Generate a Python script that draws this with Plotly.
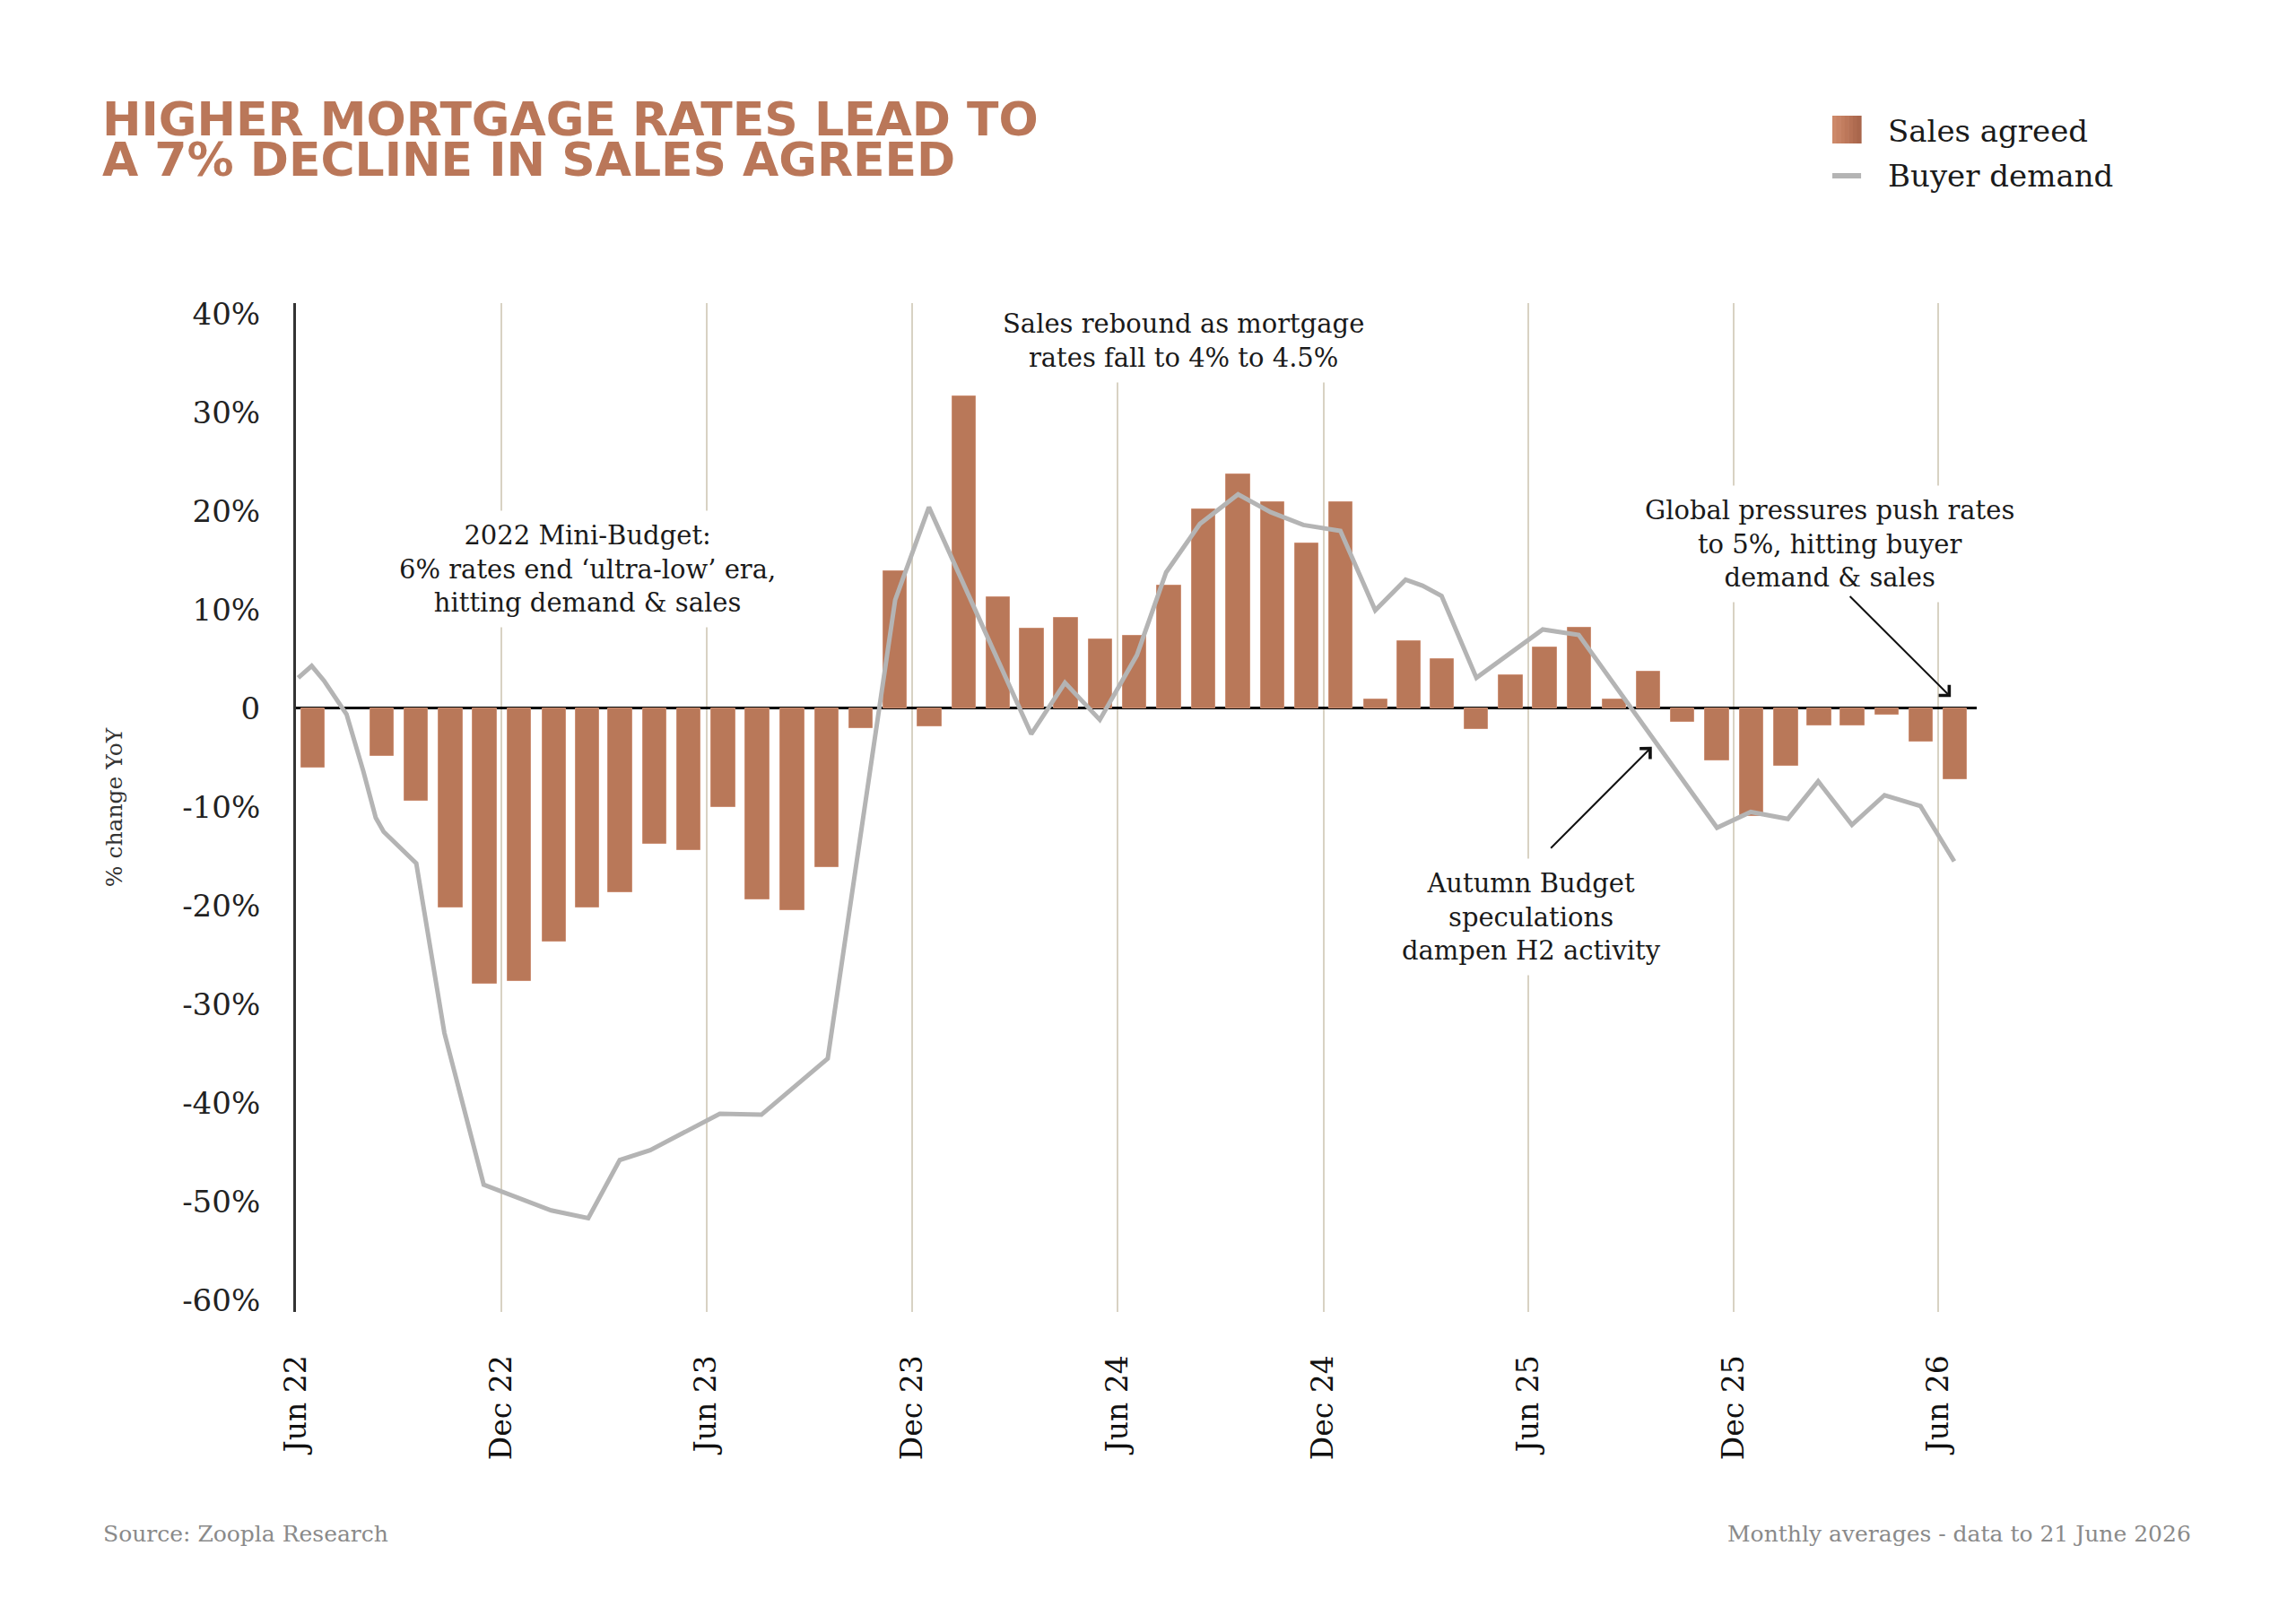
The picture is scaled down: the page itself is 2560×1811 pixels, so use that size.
import plotly.graph_objects as go

# ---------------- data ----------------
months = [
    "2022-06", "2022-07", "2022-08", "2022-09", "2022-10", "2022-11", "2022-12",
    "2023-01", "2023-02", "2023-03", "2023-04", "2023-05", "2023-06", "2023-07",
    "2023-08", "2023-09", "2023-10", "2023-11", "2023-12",
    "2024-01", "2024-02", "2024-03", "2024-04", "2024-05", "2024-06", "2024-07",
    "2024-08", "2024-09", "2024-10", "2024-11", "2024-12",
    "2025-01", "2025-02", "2025-03", "2025-04", "2025-05", "2025-06", "2025-07",
    "2025-08", "2025-09", "2025-10", "2025-11", "2025-12",
    "2026-01", "2026-02", "2026-03", "2026-04", "2026-05", "2026-06",
]
sales_agreed = [
    -6.0, None, -4.8, -9.4, -20.2, -27.9, -27.6,
    -23.6, -20.2, -18.6, -13.7, -14.4, -10.0, -19.4,
    -20.5, -16.1, -2.0, 13.9, -1.8,
    31.6, 11.3, 8.1, 9.2, 7.0, 7.4, 12.5,
    20.2, 23.7, 20.9, 16.7, 20.9,
    0.9, 6.85, 5.0, -2.1, 3.4, 6.2, 8.2,
    0.9, 3.7, -1.4, -5.25, -10.9,
    -5.8, -1.7, -1.7, -0.6, -3.4, -7.2,
]

demand_dates = [
    "2022-06-03", "2022-06-15", "2022-06-26", "2022-07-16", "2022-07-31",
    "2022-08-11", "2022-08-18", "2022-09-16", "2022-10-11", "2022-11-15",
    "2023-01-14", "2023-02-16", "2023-03-16", "2023-04-12", "2023-06-13",
    "2023-07-20", "2023-09-17", "2023-11-16", "2023-12-16", "2024-03-16",
    "2024-04-15", "2024-05-16", "2024-06-18", "2024-07-14", "2024-08-13",
    "2024-09-16", "2024-10-15", "2024-11-13", "2024-12-16", "2025-01-16",
    "2025-02-12", "2025-02-27", "2025-03-16", "2025-04-16", "2025-06-14",
    "2025-07-16", "2025-11-16", "2025-12-16", "2026-01-18", "2026-02-14",
    "2026-03-16", "2026-04-14", "2026-05-16", "2026-06-15",
]
buyer_demand = [
    3.1, 4.3, 2.8, -0.6, -6.4,
    -11.1, -12.5, -15.7, -32.9, -48.3,
    -50.9, -51.7, -45.8, -44.8, -41.1,
    -41.2, -35.5, 11.0, 20.4, -2.6,
    2.6, -1.15, 5.4, 13.8, 18.7,
    21.7, 19.9, 18.6, 18.0, 9.95,
    13.05, 12.45, 11.4, 3.1, 8.0,
    7.45, -12.1, -10.5, -11.2, -7.4,
    -11.8, -8.8, -9.9, -15.5,
]

x_tick_dates = ["2022-06-01", "2022-12-01", "2023-06-01", "2023-12-01", "2024-06-01",
                "2024-12-01", "2025-06-01", "2025-12-01", "2026-06-01"]
x_tick_labels = ["Jun 22", "Dec 22", "Jun 23", "Dec 23", "Jun 24",
                 "Dec 24", "Jun 25", "Dec 25", "Jun 26"]
y_tick_values = [40, 30, 20, 10, 0, -10, -20, -30, -40, -50, -60]
y_tick_labels = ["40%", "30%", "20%", "10%", "0", "-10%", "-20%", "-30%",
                 "-40%", "-50%", "-60%"]

# ---------------- style ----------------
COPPER = "#B97859"
GREY = "#B4B4B4"
SERIF = "DejaVu Serif"
SANS = "DejaVu Sans"
DAY_MS = 86400000

fig = go.Figure()

fig.add_trace(go.Bar(
    x=months, y=sales_agreed, name="Sales agreed",
    xperiod="M1", xperiodalignment="middle",
    width=21 * DAY_MS,
    marker=dict(color=COPPER, line=dict(color="#CC9075", width=1)),
    showlegend=False,
))

fig.add_trace(go.Scatter(
    x=demand_dates, y=buyer_demand, name="Buyer demand",
    mode="lines", line=dict(color=GREY, width=5),
    showlegend=False,
))

annotations = []

# title (two lines, tight leading: fixed box height so the lines do not overlap)
annotations.append(dict(
    text="HIGHER MORTGAGE RATES LEAD TO", xref="paper", yref="paper",
    x=-0.1158, y=1.1822, xanchor="left", yanchor="middle", showarrow=False,
    height=44, valign="middle", borderpad=0,
    font=dict(family=SANS, size=52, color="#BA7759", weight=700),
))
annotations.append(dict(
    text="A 7% DECLINE IN SALES AGREED", xref="paper", yref="paper",
    x=-0.1158, y=1.1422, xanchor="left", yanchor="middle", showarrow=False,
    height=44, valign="middle", borderpad=0,
    font=dict(family=SANS, size=52, color="#BA7759", weight=700),
))

# legend texts
annotations.append(dict(
    text="Sales agreed", xref="paper", yref="paper", x=0.9461, y=1.1707,
    xanchor="left", yanchor="middle", showarrow=False,
    font=dict(family=SERIF, size=34, color="#1a1a1a"),
))
annotations.append(dict(
    text="Buyer demand", xref="paper", yref="paper", x=0.9461, y=1.1262,
    xanchor="left", yanchor="middle", showarrow=False,
    font=dict(family=SERIF, size=34, color="#1a1a1a"),
))

# chart notes
note_font = dict(family=SERIF, size=29, color="#1a1a1a")
notes = [
    ("2022 Mini-Budget:<br>6% rates end ‘ultra-low’ era,<br>hitting demand &amp; sales", "2023-02-15", 14.1),
    ("Sales rebound as mortgage<br>rates fall to 4% to 4.5%", "2024-07-29", 37.3),
    ("Global pressures push rates<br>to 5%, hitting buyer<br>demand &amp; sales", "2026-02-24", 16.65),
    ("Autumn Budget<br>speculations<br>dampen H2 activity", "2025-06-04", -21.1),
]
for txt, xx, yy in notes:
    annotations.append(dict(
        text=txt, x=xx, y=yy, xref="x", yref="y", showarrow=False,
        xanchor="center", yanchor="middle", align="center",
        bgcolor="white", borderpad=10, font=note_font,
    ))

# arrows
arrows = [
    ("2025-09-19", -3.9, "2025-06-20", -14.3),
    ("2026-06-12", 1.15, "2026-03-13", 11.5),
]
for hx, hy, tx, ty in arrows:
    annotations.append(dict(
        text="", x=hx, y=hy, ax=tx, ay=ty, xref="x", yref="y",
        axref="x", ayref="y", showarrow=True, arrowhead=4,
        arrowsize=1.6, arrowwidth=2, arrowcolor="#111111", standoff=0,
    ))

# footer
annotations.append(dict(
    text="Source: Zoopla Research", xref="paper", yref="paper",
    x=-0.1158, y=-0.2204, xanchor="left", yanchor="middle", showarrow=False,
    font=dict(family=SERIF, size=25, color="#8a8a8a"),
))
annotations.append(dict(
    text="Monthly averages - data to 21 June 2026", xref="paper", yref="paper",
    x=1.1286, y=-0.2204, xanchor="right", yanchor="middle", showarrow=False,
    font=dict(family=SERIF, size=25, color="#8a8a8a"),
))

# legend swatches (gradient square + grey line)
shapes = []
grad = ["#CD8969", "#C88364", "#C27D5F", "#BC775A", "#B67155", "#AF6B50", "#A9664C"]
sx0, sx1 = 0.9141, 0.9312
step = (sx1 - sx0) / len(grad)
for i, c in enumerate(grad):
    shapes.append(dict(
        type="rect", xref="paper", yref="paper",
        x0=sx0 + i * step, x1=sx0 + (i + 1) * step + 0.0003,
        y0=1.1582, y1=1.1858, fillcolor=c, line=dict(width=0),
    ))
shapes.append(dict(
    type="line", xref="paper", yref="paper", x0=sx0, x1=sx1,
    y0=1.1262, y1=1.1262, line=dict(color=GREY, width=6),
))

fig.update_layout(
    width=2560, height=1811, autosize=False,
    paper_bgcolor="white", plot_bgcolor="white",
    margin=dict(l=330, r=356, t=338, b=348, autoexpand=False),
    bargap=0, showlegend=False,
    annotations=annotations, shapes=shapes,
    font=dict(family=SERIF, color="#1a1a1a"),
)

fig.update_xaxes(
    type="date", range=["2022-06-01", "2026-07-05"],
    tickmode="array", tickvals=x_tick_dates, ticktext=x_tick_labels,
    tickangle=-90, ticks="outside", ticklen=34, tickcolor="rgba(0,0,0,0)",
    tickfont=dict(family=SERIF, size=33, color="#111111"),
    showgrid=True, gridcolor="#D8D2C3", gridwidth=2,
    showline=False, zeroline=False,
)

fig.update_yaxes(
    range=[-61.2, 41.1],
    tickmode="array", tickvals=y_tick_values, ticktext=y_tick_labels,
    ticks="outside", ticklen=30, tickcolor="rgba(0,0,0,0)",
    tickfont=dict(family=SERIF, size=34, color="#222222"),
    showgrid=False,
    showline=True, linecolor="#333333", linewidth=3,
    zeroline=True, zerolinecolor="#000000", zerolinewidth=3,
    title=dict(text="% change YoY", standoff=60,
               font=dict(family=SERIF, size=25, color="#333333")),
)

fig.write_html("out.html")
